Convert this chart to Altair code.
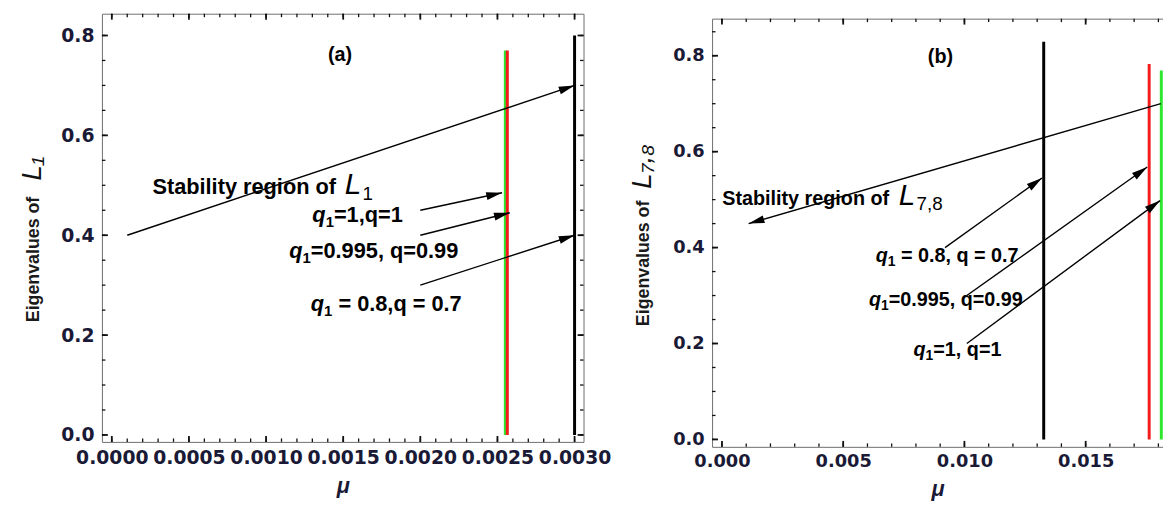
import math
import altair as alt
import pandas as pd

# ---------------- data: panel (a) ----------------
a_line_mu = [0.002551, 0.002564, 0.0030]
a_line_top = [0.770, 0.770, 0.800]
a_line_color = ["#2ee62e", "#f41c1c", "#000000"]

a_arrow_x0 = [0.0001, 0.0020, 0.0020, 0.0020]
a_arrow_y0 = [0.40, 0.45, 0.40, 0.30]
a_arrow_x1 = [0.0030, 0.00253, 0.00258, 0.0030]
a_arrow_y1 = [0.70, 0.485, 0.445, 0.40]

a_q_rest = ["=1,q=1", "=0.995, q=0.99", " = 0.8,q = 0.7"]
a_q_x = [0.00130, 0.00115, 0.00129]
a_q_y = [0.426, 0.354, 0.248]

a_region_text = ["Stability region of"]
a_region_x = [0.000263]
a_region_y = [0.4832]
a_L_sub = ["1"]
a_L_x = [0.00151]
a_L_y = [0.4832]
a_tag = ["(a)"]
a_tag_x = [0.00148]
a_tag_y = [0.760]

a_xmajor = [0.0, 0.0005, 0.0010, 0.0015, 0.0020, 0.0025, 0.0030]
a_xminor = [round(i * 0.0001, 4) for i in range(0, 31)]
a_ymajor = [0.0, 0.2, 0.4, 0.6, 0.8]
a_yminor = [round(i * 0.05, 2) for i in range(0, 17)]

# ---------------- data: panel (b) ----------------
b_line_mu = [0.01327, 0.01762, 0.01812]
b_line_top = [0.829, 0.783, 0.769]
b_line_color = ["#000000", "#f41c1c", "#2ee62e"]

b_arrow_x0 = [0.0181, 0.0092, 0.0101, 0.0101]
b_arrow_y0 = [0.70, 0.40, 0.30, 0.20]
b_arrow_x1 = [0.0011, 0.0132, 0.01754, 0.01807]
b_arrow_y1 = [0.45, 0.545, 0.568, 0.498]

b_q_rest = [" = 0.8, q = 0.7", "=0.995, q=0.99", "=1, q=1"]
b_q_x = [0.00634, 0.00606, 0.0079]
b_q_y = [0.3695, 0.279, 0.1736]

b_region_text = ["Stability region of"]
b_region_x = [0.00001]
b_region_y = [0.4897]
b_L_sub = ["7,8"]
b_L_x = [0.00729]
b_L_y = [0.4897]
b_tag = ["(b)"]
b_tag_x = [0.00901]
b_tag_y = [0.797]

b_xmajor = [0.0, 0.005, 0.010, 0.015]
b_xminor = [round(i * 0.001, 3) for i in range(0, 19)]
b_ymajor = [0.0, 0.2, 0.4, 0.6, 0.8]
b_yminor = [round(i * 0.05, 2) for i in range(0, 18)]

FRAME = "#6e6e6e"
TICK = "#111111"
LABEL = "#1a1a36"
TXT_FONT = "Liberation Sans"
NUM_FONT = "DejaVu Sans"


def frame_axis(orient):
    return alt.Axis(orient=orient, domain=True, domainColor=FRAME, domainWidth=1,
                    ticks=False, labels=False, grid=False, title=None)


def panel(W, H, xdom, ydom, yrange, xmaj, xmin_, ymaj, ymin_, xfmt, numfs, txtfs,
          lines, arrows, qtext, region, Ltext, tag, ytitle_y, L_title, L_title_y,
          xlabpad, xtitlepad, frame_shift, right_axes):
    xs = alt.Scale(domain=xdom, nice=False, zero=False)
    if yrange is None:
        ys = alt.Scale(domain=ydom, nice=False, zero=False)
    else:
        ys = alt.Scale(domain=ydom, range=yrange, nice=False, zero=False)

    lines_df = pd.DataFrame({"mu": lines[0], "top": lines[1], "color": lines[2],
                             "bottom": [0.0] * len(lines[0]), "order": list(range(len(lines[0])))})

    def host(xaxis, yaxis):
        return alt.Chart(lines_df).mark_point(opacity=0, size=1).encode(
            x=alt.X("mu:Q", scale=xs, axis=xaxis),
            y=alt.Y("top:Q", scale=ys, axis=yaxis),
        )

    x_lab = alt.Axis(orient="bottom", values=xmaj, format=xfmt, domain=True, domainColor=FRAME,
                     domainWidth=1, ticks=False, tickSize=0, labelFont=NUM_FONT, labelFontSize=numfs,
                     labelFontWeight="bold", labelColor=LABEL, labelPadding=xlabpad, labelFlush=False,
                     labelOverlap=False, grid=False, title="μ", titleFont=TXT_FONT, titleFontSize=22,
                     titleFontStyle="italic", titleFontWeight="bold", titleColor=LABEL,
                     titlePadding=xtitlepad)
    y_lab = alt.Axis(orient="left", values=ymaj, format=".1f", domain=True, domainColor=FRAME,
                     domainWidth=1, ticks=False, tickSize=0, labelFont=NUM_FONT, labelFontSize=numfs,
                     labelFontWeight="bold", labelColor=LABEL, labelPadding=8, labelFlush=False,
                     labelOverlap=False, grid=False, title="Eigenvalues of", titleFont=TXT_FONT,
                     titleFontSize=18, titleFontWeight="bold", titleColor="#1a1a1a",
                     titleX=-60, titleY=ytitle_y)
    y_Ltitle = alt.Axis(orient="left", domain=False, ticks=False, labels=False, grid=False,
                        title=L_title, titleFont=TXT_FONT, titleFontSize=28, titleFontStyle="italic",
                        titleFontWeight="normal", titleColor="#111111", titleX=-56, titleY=L_title_y)

    top_axis = (frame_axis("top") if frame_shift == 0 else
                alt.Axis(orient="top", offset=-frame_shift, domain=True, domainColor=FRAME,
                         domainWidth=1, ticks=False, labels=False, grid=False, title=None))
    layers = [
        host(x_lab, y_lab),
        host(top_axis, y_Ltitle),
    ]
    if right_axes:
        layers.append(host(None, frame_axis("right")))

    # frame ticks pointing inward, drawn through the scales
    def tick_layer(vals, fixed, orient, size, offset, thick):
        df = pd.DataFrame({"v": vals, "f": [fixed] * len(vals)})
        if orient == "vertical":
            enc = dict(x=alt.X("v:Q", scale=xs, axis=None), y=alt.Y("f:Q", scale=ys, axis=None))
            mk = alt.Chart(df).mark_tick(orient="vertical", size=size, thickness=thick, color=TICK,
                                         yOffset=offset, opacity=1)
        else:
            enc = dict(y=alt.Y("v:Q", scale=ys, axis=None), x=alt.X("f:Q", scale=xs, axis=None))
            mk = alt.Chart(df).mark_tick(orient="horizontal", size=size, thickness=thick, color=TICK,
                                         xOffset=offset, opacity=1)
        return mk.encode(**enc)

    layers += [
        tick_layer(xmaj, ydom[0], "vertical", 6, -3, 1.8),
        tick_layer(xmin_, ydom[0], "vertical", 3.5, -1.75, 1.3),
        tick_layer(xmaj, ydom[1], "vertical", 6, 3, 1.8),
        tick_layer(xmin_, ydom[1], "vertical", 3.5, 1.75, 1.3),
        tick_layer(ymaj, xdom[0], "horizontal", 6, 3, 1.8),
        tick_layer(ymin_, xdom[0], "horizontal", 3.5, 1.75, 1.3),
    ]
    if right_axes:
        layers += [
            tick_layer(ymaj, xdom[1], "horizontal", 6, -3, 1.8),
            tick_layer(ymin_, xdom[1], "horizontal", 3.5, -1.75, 1.3),
        ]

    vlines = alt.Chart(lines_df).mark_rule(strokeWidth=3, strokeCap="butt").encode(
        x=alt.X("mu:Q", scale=xs, axis=None),
        y=alt.Y("bottom:Q", scale=ys, axis=None),
        y2="top:Q",
        color=alt.Color("color:N", scale=None),
        order="order:Q",
    )

    kx = W / (xdom[1] - xdom[0])
    span = (yrange[0] - yrange[1]) if yrange is not None else H
    ky = span / (ydom[1] - ydom[0])
    angles = []
    for x0, y0, x1, y1 in zip(*arrows):
        dx = (x1 - x0) * kx
        dy = -(y1 - y0) * ky
        angles.append(math.degrees(math.atan2(dx, -dy)) % 360)
    arr_df = pd.DataFrame({"x0": arrows[0], "y0": arrows[1], "x1": arrows[2], "y1": arrows[3],
                           "angle": angles})
    arr_lines = alt.Chart(arr_df).mark_rule(strokeWidth=1.4, color="black").encode(
        x=alt.X("x0:Q", scale=xs, axis=None), y=alt.Y("y0:Q", scale=ys, axis=None),
        x2="x1:Q", y2="y1:Q")
    arr_heads = alt.Chart(arr_df).mark_point(
        shape="M0,0L-0.25,1L0.25,1Z", filled=True, color="black", opacity=1, size=1024,
        strokeWidth=0).encode(
        x=alt.X("x1:Q", scale=xs, axis=None), y=alt.Y("y1:Q", scale=ys, axis=None),
        angle=alt.Angle("angle:Q", scale=None))

    def text_layer(t, x, y, size, weight="bold", style="normal", align="left",
                   baseline="alphabetic", dx=0, dy=0):
        df = pd.DataFrame({"t": t, "x": x, "y": y})
        return alt.Chart(df).mark_text(align=align, baseline=baseline, font=TXT_FONT, fontSize=size,
                                       fontWeight=weight, fontStyle=style, color="black",
                                       dx=dx, dy=dy).encode(
            x=alt.X("x:Q", scale=xs, axis=None), y=alt.Y("y:Q", scale=ys, axis=None), text="t:N")

    q_rest, q_x, q_y = qtext
    qw = 0.611 * txtfs
    subfs = round(txtfs * 0.68)
    sw = 0.556 * subfs
    spw = 0.278 * txtfs
    plain = [i for i, s in enumerate(q_rest) if not s.startswith(" ")]
    spaced = [i for i, s in enumerate(q_rest) if s.startswith(" ")]
    Lsub, Lx, Ly = Ltext
    layers += [
        vlines, arr_lines, arr_heads,
        text_layer(["q"] * len(q_x), q_x, q_y, txtfs, style="italic"),
        text_layer(["1"] * len(q_x), q_x, q_y, subfs, dx=qw, dy=round(txtfs * 0.22)),
        text_layer([q_rest[i] for i in plain], [q_x[i] for i in plain], [q_y[i] for i in plain],
                   txtfs, dx=qw + sw),
        text_layer([q_rest[i].lstrip() for i in spaced], [q_x[i] for i in spaced],
                   [q_y[i] for i in spaced], txtfs, dx=qw + sw + spw),
        text_layer(*region, txtfs),
        text_layer(["L"], Lx, Ly, 30, weight="normal", style="italic"),
        text_layer(Lsub, Lx, Ly, 19, weight="normal", dx=18, dy=6),
        text_layer(*tag, 20, align="center", baseline="middle"),
    ]
    return alt.layer(*layers).resolve_axis(x="independent", y="independent").properties(
        width=W, height=H)


pa = panel(487, 433, [-0.000064, 0.003058], [-0.0139, 0.8436], None,
           a_xmajor, a_xminor, a_ymajor, a_yminor, ".4f", 19, 22,
           (a_line_mu, a_line_top, a_line_color),
           (a_arrow_x0, a_arrow_y0, a_arrow_x1, a_arrow_y1),
           (a_q_rest, a_q_x, a_q_y), (a_region_text, a_region_x, a_region_y),
           (a_L_sub, a_L_x, a_L_y), (a_tag, a_tag_x, a_tag_y),
           248, "L₁", 156, 7, 8, 0, True)

pb = panel(456, 438, [-0.000408, 0.01819], [-0.01546, 0.8773], [438, 5],
           b_xmajor, b_xminor, b_ymajor, b_yminor, ".3f", 18, 20,
           (b_line_mu, b_line_top, b_line_color),
           (b_arrow_x0, b_arrow_y0, b_arrow_x1, b_arrow_y1),
           (b_q_rest, b_q_x, b_q_y), (b_region_text, b_region_x, b_region_y),
           (b_L_sub, b_L_x, b_L_y), (b_tag, b_tag_x, b_tag_y),
           252, "L₇,₈", 154, 6, 8, 5, False)

chart = alt.hconcat(pa, pb, spacing=130, bounds="flush").properties(
    padding={"left": 11, "top": 3, "right": 0, "bottom": 0},
    background="white",
).configure_view(strokeWidth=0)

chart.save("out.html", embed_options={"renderer": "svg", "actions": False})
